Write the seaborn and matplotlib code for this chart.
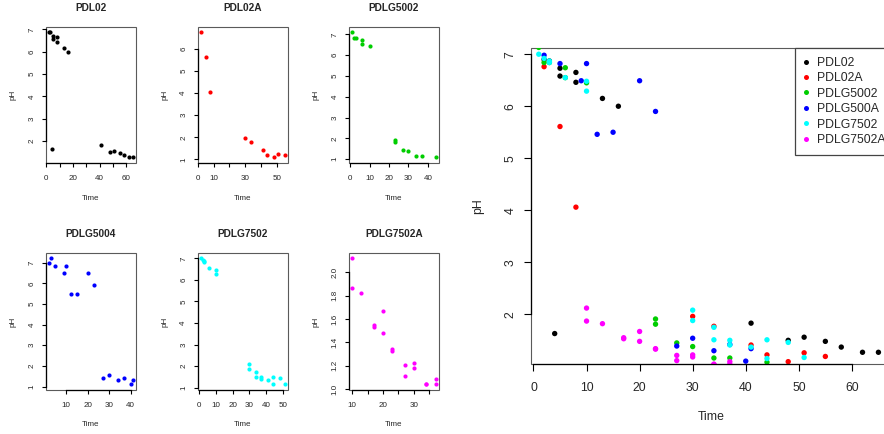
import numpy as np
import pandas as pd
import matplotlib
matplotlib.use("Agg")
import matplotlib.pyplot as plt
import seaborn as sns
from matplotlib.lines import Line2D

# ---------------- data ----------------
pdl02_t = [2, 3, 4, 5, 5, 8, 8, 13, 16, 41, 48, 51, 55, 58, 62, 65]
pdl02_ph = [6.90, 6.87, 1.63, 6.73, 6.58, 6.65, 6.46, 6.15, 6.00, 1.83, 1.50, 1.56, 1.48, 1.37, 1.27, 1.27]

pdl02a_t = [2, 5, 8, 30, 34, 41, 44, 48, 51, 55]
pdl02a_ph = [6.76, 5.61, 4.06, 1.96, 1.77, 1.41, 1.22, 1.09, 1.26, 1.19]

pdlg5002_t = [1, 2, 3, 6, 6, 10, 23, 23, 27, 30, 34, 37, 44]
pdlg5002_ph = [7.13, 6.84, 6.84, 6.74, 6.55, 6.45, 1.91, 1.81, 1.45, 1.38, 1.16, 1.16, 1.08]

pdlg500a_t = [2, 3, 5, 9, 10, 12, 15, 20, 23, 27, 30, 34, 37, 40, 41]
pdlg500a_ph = [6.98, 7.21, 6.82, 6.49, 6.82, 5.46, 5.50, 6.49, 5.90, 1.39, 1.54, 1.30, 1.42, 1.10, 1.34]

pdlg7502_t = [1, 2, 3, 3, 6, 10, 10, 30, 30, 34, 34, 37, 37, 41, 44, 44, 48, 51]
pdlg7502_ph = [7.00, 6.92, 6.87, 6.84, 6.55, 6.48, 6.29, 2.08, 1.88, 1.75, 1.51, 1.50, 1.41, 1.37, 1.51, 1.15, 1.46, 1.17]

pdlg7502a_t = [10, 10, 13, 17, 17, 20, 20, 23, 23, 27, 27, 30, 30, 34, 34, 37, 37]
pdlg7502a_ph = [2.12, 1.87, 1.82, 1.55, 1.53, 1.67, 1.48, 1.34, 1.33, 1.21, 1.11, 1.22, 1.18, 1.04, 1.04, 1.09, 1.04]

series_names = ["PDL02", "PDL02A", "PDLG5002", "PDLG500A", "PDLG7502", "PDLG7502A"]
panel_titles = ["PDL02", "PDL02A", "PDLG5002", "PDLG5004", "PDLG7502", "PDLG7502A"]
series_colors = ["#000000", "#FF0000", "#00CD00", "#0000FF", "#00FFFF", "#FF00FF"]
series_t = [pdl02_t, pdl02a_t, pdlg5002_t, pdlg500a_t, pdlg7502_t, pdlg7502a_t]
series_ph = [pdl02_ph, pdl02a_ph, pdlg5002_ph, pdlg500a_ph, pdlg7502_ph, pdlg7502a_ph]

# tick labels of each small panel
panel_xticks = [[0, 10, 20, 30, 40, 50, 60], [0, 10, 20, 30, 40, 50], [0, 10, 20, 30, 40],
                [10, 20, 30, 40], [0, 10, 20, 30, 40, 50], [10, 15, 20, 25, 30, 35]]
panel_xlabels = [["0", "", "20", "", "40", "", "60"], ["0", "10", "", "30", "", "50"],
                 ["0", "10", "20", "30", "40"], ["10", "20", "30", "40"],
                 ["0", "10", "20", "30", "40", "50"], ["10", "", "20", "", "30", ""]]
panel_yticks = [[2, 3, 4, 5, 6, 7], [1, 2, 3, 4, 5, 6], [1, 2, 3, 4, 5, 6, 7], [1, 2, 3, 4, 5, 6, 7],
                [1, 2, 3, 4, 5, 6, 7], [1.0, 1.2, 1.4, 1.6, 1.8, 2.0]]
panel_ylabels = [["2", "3", "4", "5", "6", "7"], ["1", "2", "3", "4", "5", "6"],
                 ["1", "2", "3", "4", "5", "6", "7"], ["1", "2", "3", "4", "5", "6", "7"],
                 ["1", "2", "3", "4", "5", "6", "7"], ["1.0", "1.2", "1.4", "1.6", "1.8", "2.0"]]
big_xticks = [0, 10, 20, 30, 40, 50, 60]
big_yticks = [2, 3, 4, 5, 6, 7]

# ---------------- style ----------------
sns.set_style("white")
plt.rcParams["font.family"] = ["Liberation Sans", "DejaVu Sans"]

W, H = 884, 434
fig = plt.figure(figsize=(W / 100, H / 100), dpi=100)


def px_axes(left, top, right, bottom):
    return fig.add_axes([left / W, 1 - bottom / H, (right - left) / W, (bottom - top) / H])


def r_limits(vals):
    lo, hi = min(vals), max(vals)
    r = hi - lo
    return lo - 0.04 * r, hi + 0.04 * r


def r_style(ax, xt, xl, yt, yl, fs, tlen, xpad, ypad):
    for s in ax.spines.values():
        s.set_visible(False)
    ax.patch.set_edgecolor("#5a5a5a")
    ax.patch.set_linewidth(0.8)
    ax.set_xticks(xt)
    ax.set_xticklabels(xl)
    ax.set_yticks(yt)
    ax.set_yticklabels(yl, rotation=90, va="center")
    for side, tk in (("left", yt), ("bottom", xt)):
        sp = ax.spines[side]
        sp.set_visible(True)
        sp.set_color("black")
        sp.set_linewidth(0.9)
        sp.set_bounds(tk[0], tk[-1])
    ax.tick_params(axis="x", direction="out", length=tlen, width=0.8, color="black",
                   labelsize=fs, pad=xpad, bottom=True, left=False)
    ax.tick_params(axis="y", direction="out", length=tlen, width=0.8, color="black",
                   labelsize=fs, pad=ypad, left=True, bottom=False)
    ax.grid(False)


# ---------------- small panels ----------------
panel_boxes = [(45.7, 26.7, 136.2, 162.5), (197.5, 26.7, 288.0, 162.5), (348.7, 26.7, 439.0, 162.5),
               (45.7, 253.3, 136.2, 389.5), (197.5, 253.3, 288.0, 389.5), (348.7, 253.3, 439.0, 389.5)]

for i in range(6):
    l, t, r, b = panel_boxes[i]
    ax = px_axes(l, t, r, b)
    sns.scatterplot(x=series_t[i], y=series_ph[i], color=series_colors[i], s=9, linewidth=0, ax=ax)
    ax.set_xlim(*r_limits(series_t[i]))
    ax.set_ylim(*r_limits(series_ph[i]))
    r_style(ax, panel_xticks[i], panel_xlabels[i], panel_yticks[i], panel_ylabels[i],
            fs=5.8, tlen=2.9, xpad=6.0, ypad=4.5)
    ax.set_title(panel_titles[i], fontsize=7.25, fontweight="bold", pad=11.4)
    ax.set_xlabel("Time", fontsize=5.8)
    ax.set_ylabel("pH", fontsize=5.8)
    ax.xaxis.set_label_coords(0.5, -35.5 / (b - t))
    ax.xaxis.label.set_va("center")
    ax.yaxis.set_label_coords(-32.4 / (r - l), 0.5)
    ax.yaxis.label.set_va("center")

# ---------------- combined panel ----------------
frames = []
for name, tt, pp in zip(series_names, series_t, series_ph):
    frames.append(pd.DataFrame({"Time": tt, "pH": pp, "Series": name}))
df = pd.concat(frames, ignore_index=True)

bl, bt, br, bb = 530.7, 47.7, 891.8, 364.0
axb = px_axes(bl, bt, br, bb)
sns.scatterplot(data=df, x="Time", y="pH", hue="Series", hue_order=series_names,
                palette=dict(zip(series_names, series_colors)), s=15, linewidth=0,
                ax=axb, legend=False)
axb.set_xlim(*r_limits(pdl02_t))
axb.set_ylim(*r_limits(pdl02_ph))
r_style(axb, big_xticks, [str(v) for v in big_xticks], big_yticks, [str(v) for v in big_yticks],
        fs=8.8, tlen=5.0, xpad=7.8, ypad=5.3)
axb.set_xlabel("Time", fontsize=8.8)
axb.set_ylabel("pH", fontsize=8.8)
axb.xaxis.set_label_coords(0.5, -52.7 / (bb - bt))
axb.xaxis.label.set_va("center")
axb.yaxis.set_label_coords(-52.4 / (br - bl), 0.5)
axb.yaxis.label.set_va("center")

handles = [Line2D([], [], marker="o", ls="", color=c, markersize=3.6, markeredgewidth=0)
           for c in series_colors]
leg = fig.legend(handles, series_names, loc="upper left",
                 bbox_to_anchor=(795 / W, 1 - 48.3 / H), bbox_transform=fig.transFigure,
                 fontsize=8.8, frameon=True, fancybox=False, framealpha=1,
                 edgecolor="#444444", borderpad=0.7, handlelength=0.4, handletextpad=0.73,
                 labelspacing=0.28, borderaxespad=0)
leg.get_frame().set_linewidth(0.9)

fig.savefig("out.png", dpi=100)
